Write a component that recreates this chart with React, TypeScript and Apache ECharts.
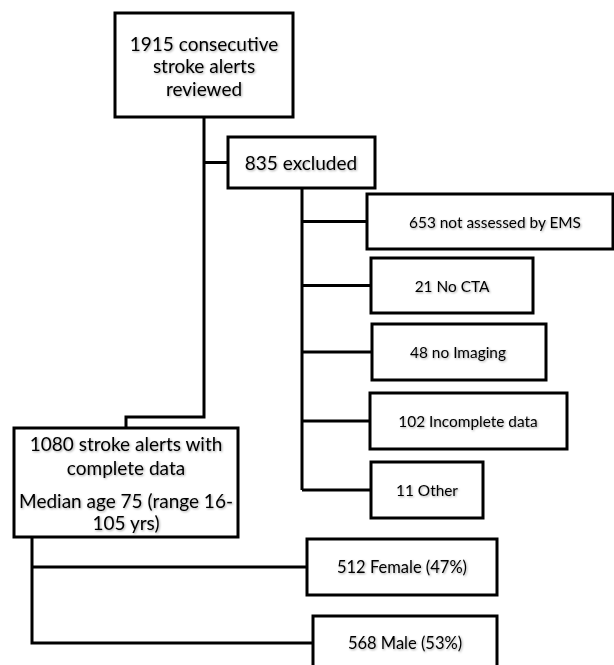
import React, { useEffect, useRef } from "react";
import * as echarts from "echarts";

// ---- data ----
const totalAlerts = 1915;
const excludedTotal = 835;
const exclusionCounts = [653, 21, 48, 102, 11];
const exclusionReasons = ["not assessed by EMS", "No CTA", "no Imaging", "Incomplete data", "Other"];
const includedTotal = 1080;
const medianAge = 75;
const ageRange = [16, 105];
const sexLabels = ["Female", "Male"];
const sexCounts = [512, 568];
const sexPercents = [47, 53];

// ---- layout (positions / sizes) ----
const topBox = { x: 115, y: 13, w: 178, h: 104, cx: 204, lines: [43, 65, 88] };
const excludedBox = { x: 228, y: 137, w: 147, h: 51, cx: 301 };
const exclusionBoxes = [
  { x: 367, y: 194, w: 246, h: 55, tx: 495 },
  { x: 371, y: 258, w: 162, h: 55, tx: 452 },
  { x: 372, y: 324, w: 174, h: 56, tx: 458 },
  { x: 370, y: 393, w: 197, h: 56, tx: 468 },
  { x: 371, y: 462, w: 112, h: 56, tx: 427 },
];
const includedBox = { x: 14, y: 428, w: 224, h: 109, cx: 126, lines: [443, 467, 500, 522] };
const sexBoxes = [
  { x: 307, y: 539, w: 190, h: 56, tx: 402 },
  { x: 313, y: 616, w: 184, h: 62, tx: 405 },
];

const FONT = "Lato, 'Open Sans', sans-serif";
const shadow = {
  textShadowColor: "rgba(0,0,0,0.35)",
  textShadowBlur: 2,
  textShadowOffsetX: 1,
  textShadowOffsetY: 1,
};

function rect(b: { x: number; y: number; w: number; h: number }) {
  return {
    type: "rect",
    shape: { x: b.x, y: b.y, width: b.w, height: b.h },
    style: { fill: "#fff", stroke: "#000", lineWidth: 3 },
    z: 10,
  };
}
function line(points: number[][]) {
  return {
    type: "polyline",
    shape: { points },
    style: { stroke: "#000", lineWidth: 3, fill: null },
    z: 5,
  };
}
function text(t: string, x: number, y: number, size: number) {
  return {
    type: "text",
    x,
    y,
    z: 20,
    style: {
      text: t,
      fill: "#000",
      font: `${size}px ${FONT}`,
      align: "center",
      verticalAlign: "middle",
      ...shadow,
    },
  };
}

export default function App() {
  const ref = useRef<HTMLDivElement>(null);
  useEffect(() => {
    if (!ref.current) return;
    const chart = echarts.init(ref.current, null, { renderer: "svg" });
    const els: any[] = [];

    // connectors
    els.push(line([[topBox.cx, topBox.y + topBox.h], [topBox.cx, 417], [includedBox.cx, 417], [includedBox.cx, includedBox.y]]));
    els.push(line([[topBox.cx, excludedBox.y + excludedBox.h / 2], [excludedBox.x, excludedBox.y + excludedBox.h / 2]]));
    const trunkX = 302;
    const lastEx = exclusionBoxes[exclusionBoxes.length - 1];
    els.push(line([[trunkX, excludedBox.y + excludedBox.h], [trunkX, lastEx.y + lastEx.h / 2]]));
    exclusionBoxes.forEach((b) => {
      els.push(line([[trunkX, b.y + b.h / 2], [b.x, b.y + b.h / 2]]));
    });
    const sexTrunkX = 32;
    els.push(line([[sexTrunkX, includedBox.y + includedBox.h], [sexTrunkX, 643], [sexBoxes[1].x, 643]]));
    els.push(line([[sexTrunkX, sexBoxes[0].y + sexBoxes[0].h / 2], [sexBoxes[0].x, sexBoxes[0].y + sexBoxes[0].h / 2]]));

    // boxes
    els.push(rect(topBox));
    const topLines = [`${totalAlerts} consecutive`, "stroke alerts", "reviewed"];
    topLines.forEach((t, i) => els.push(text(t, topBox.cx, topBox.lines[i], 19)));

    els.push(rect(excludedBox));
    els.push(text(`${excludedTotal} excluded`, excludedBox.cx, excludedBox.y + excludedBox.h / 2, 19));

    exclusionBoxes.forEach((b, i) => {
      els.push(rect(b));
      els.push(text(`${exclusionCounts[i]} ${exclusionReasons[i]}`, b.tx, b.y + b.h / 2, 15.4));
    });

    els.push(rect(includedBox));
    const incLines = [
      `${includedTotal} stroke alerts with`,
      "complete data",
      `Median age ${medianAge} (range ${ageRange[0]}-`,
      `${ageRange[1]} yrs)`,
    ];
    incLines.forEach((t, i) => els.push(text(t, includedBox.cx, includedBox.lines[i], 19)));

    sexBoxes.forEach((b, i) => {
      els.push(rect(b));
      const cy = i === 1 ? 643 : b.y + b.h / 2;
      els.push(text(`${sexCounts[i]} ${sexLabels[i]} (${sexPercents[i]}%)`, b.tx, cy, 16.5));
    });

    chart.setOption({
      animation: false,
      backgroundColor: "#fff",
      graphic: { elements: els },
    });
    return () => chart.dispose();
  }, []);
  return (
    <div
      ref={ref}
      style={{ position: "fixed", left: 0, top: 0, width: 614, height: 665, background: "#fff" }}
    />
  );
}
